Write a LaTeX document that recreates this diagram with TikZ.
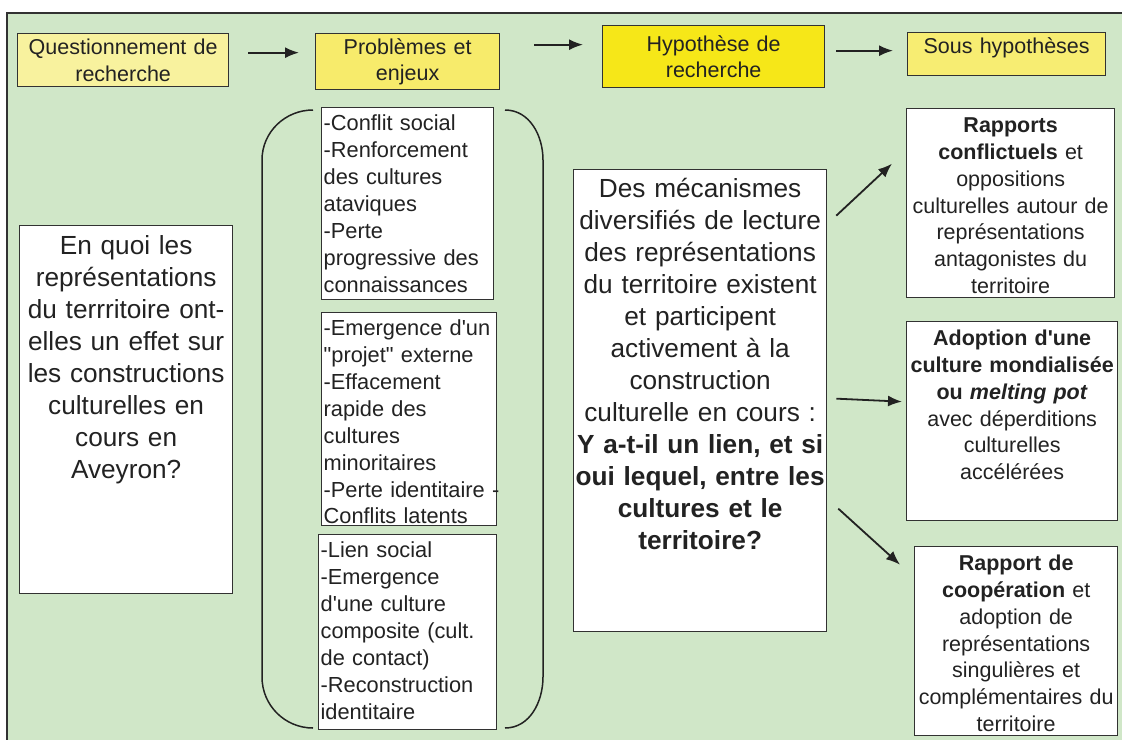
\documentclass[tikz,border=0pt]{standalone}
\usepackage{fontspec}
\setmainfont{Liberation Sans}
\usetikzlibrary{arrows.meta}
\hyphenpenalty=10000
\exhyphenpenalty=10000
\definecolor{bggreen}{RGB}{208,231,200}
\definecolor{paleyel}{RGB}{248,242,158}
\definecolor{midyel}{RGB}{247,235,107}
\definecolor{subyel}{RGB}{247,237,114}
\definecolor{hypyel}{RGB}{246,231,24}
\definecolor{ink}{RGB}{34,34,34}
\definecolor{linegray}{RGB}{50,50,50}
\tikzset{
	topbox/.style={draw=linegray, line width=1.3pt, anchor=north west, inner xsep=0pt, align=center, text=ink, font=\fontsize{21.5}{26.5}\selectfont},
	textbox/.style={draw=linegray, fill=white, line width=1.3pt, anchor=north west, inner xsep=2pt, text=ink},
	listbox/.style={textbox, align=left, font=\fontsize{21.8}{26.9}\selectfont, text height=17pt, inner ysep=6pt},
	subbox/.style={textbox, align=center, font=\fontsize{21.5}{26.8}\selectfont, text height=17pt, inner ysep=7pt},
	bigbox/.style={textbox, align=center, font=\fontsize{26.2}{32}\selectfont, text height=20pt},
	paren/.style={draw=ink, line width=1.5pt},
	arr/.style={-{Latex[length=14pt,width=11pt]}, draw=ink, line width=1.8pt}
}
\begin{document}
\begin{tikzpicture}[x=1pt, y=-1pt]
	\useasboundingbox (0,0) rectangle (1122,740);
	\fill[bggreen] (7,13) rectangle (1122,740);
	\draw[linegray, line width=1.5pt] (1122,13) -- (7,13) -- (7,740);
	\node[topbox, fill=paleyel, text width=211pt, minimum height=53pt] (qr) at (17,33) {Questionnement de\\recherche};
	\node[topbox, fill=midyel, text width=184pt, minimum height=56pt] (pe) at (315,33) {Problèmes et\\enjeux};
	\node[topbox, fill=hypyel, text width=222pt, minimum height=62pt] (hr) at (602,25) {Hypothèse de\\recherche};
	\node[topbox, fill=subyel, text width=198pt, text height=17pt, text depth=18pt, inner ysep=4pt] (sh) at (907,32) {Sous hypothèses};
	\node[bigbox, text width=209pt, inner ysep=8.5pt, text depth=331pt] (quest) at (19,225) {En quoi les\\représentations\\du~terrritoire~ont-\\elles~un~effet~sur\\les~constructions\\culturelles en\\cours en\\Aveyron?};
	\node[listbox, text width=168pt, text depth=163pt] (pb1) at (321,107) {-Conflit social\\-Renforcement\\des cultures\\ataviques\\-Perte\\progressive~des\\connaissances};
	\node[listbox, text width=171pt, text depth=184pt] (pb2) at (321,312) {-Emergence~d\textquotesingle un\\\textquotedbl projet\textquotedbl{}~externe\\-Effacement\\rapide des\\cultures\\minoritaires\\-Perte~identitaire~-\\Conflits latents};
	\node[listbox, text width=174pt, text depth=166pt] (pb3) at (318,534) {-Lien social\\-Emergence\\d\textquotesingle une~culture\\composite~(cult.\\de contact)\\-Reconstruction\\identitaire};
	\node[bigbox, text width=249pt, inner ysep=7.5pt, text depth=427pt] (hyp) at (573,169) {Des mécanismes\\diversifiés~de~lecture\\des~représentations\\du~territoire~existent\\et participent\\activement à la\\construction\\culturelle~en~cours~:\\\textbf{Y~a-t-il~un~lien,~et~si}\\\textbf{oui~lequel,~entre~les}\\\textbf{cultures et le}\\\textbf{territoire?}};
	\node[subbox, text width=204pt, text depth=158pt] (sh1) at (906,108) {\textbf{Rapports}\\\textbf{conflictuels} et\\oppositions\\culturelles~autour~de\\représentations\\antagonistes~du\\territoire};
	\node[subbox, text width=207pt, text depth=168pt] (sh2) at (906,321) {\textbf{Adoption~d\textquotesingle une}\\\textbf{culture~mondialisée}\\\textbf{ou~\textit{melting~pot}}\\avec~déperditions\\culturelles\\accélérées};
	\node[subbox, text width=199pt, text depth=158pt] (sh3) at (914,546) {\textbf{Rapport de}\\\textbf{coopération} et\\adoption de\\représentations\\singulières et\\complémentaires~du\\territoire};
	\draw[paren] (313,110) to[out=180,in=90] (262,160) -- (262,677) to[out=-90,in=180] (313,728);
	\draw[paren] (505,110) to[out=0,in=90] (543,160) -- (543,677) to[out=-90,in=0] (505,728);
	\draw[arr] ([shift={(19,-7.5)}]qr.east) -- ([shift={(-16,-9)}]pe.west);
	\draw[arr] ([shift={(34,-17)}]pe.east) -- ([shift={(-19,-12)}]hr.west);
	\draw[arr] ([shift={(11,-6)}]hr.east) -- ([shift={(-14,-3.5)}]sh.west);
	\draw[arr] ([shift={(9,-185)}]hyp.east) -- ([shift={(-14,-39.5)}]sh1.west);
	\draw[arr] ([shift={(9,-2)}]hyp.east) -- ([shift={(-4,-19.5)}]sh2.west);
	\draw[arr] ([shift={(11,108)}]hyp.east) -- ([shift={(-14,-76.5)}]sh3.west);
\end{tikzpicture}
\end{document}
